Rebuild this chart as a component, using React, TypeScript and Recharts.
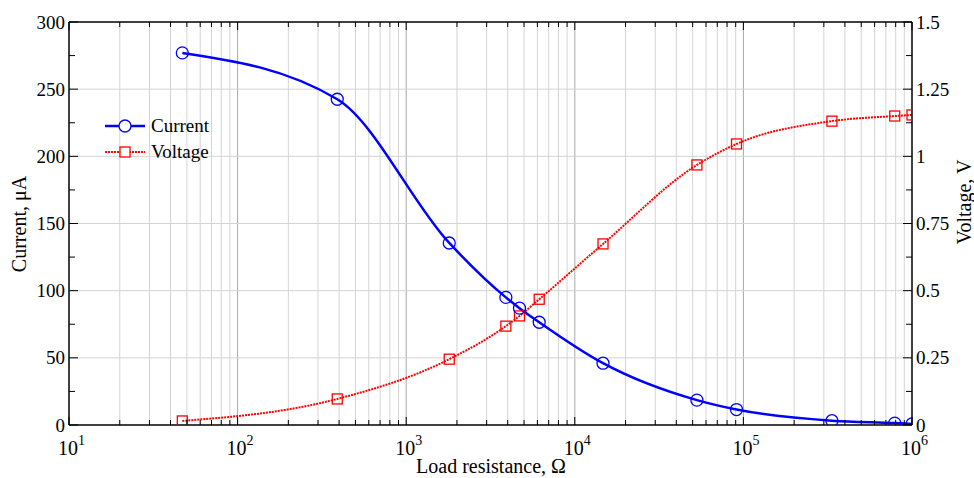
import { ComposedChart, Line, XAxis, YAxis, ReferenceLine } from 'recharts';

// Load resistance (ohm) at each measured point
const resistance = [47, 390, 1800, 3900, 4700, 6150, 14700, 53000, 91000, 335000, 790000, 1000000];
// Current, uA
const current = [277, 242.5, 135.5, 95, 87, 76.5, 46, 18.5, 11.5, 3.2, 1.4, 0.8];
// Voltage, V
const voltage = [0.015, 0.097, 0.245, 0.368, 0.406, 0.468, 0.674, 0.968, 1.046, 1.131, 1.15, 1.154];

const decadeTicks = [10, 100, 1000, 10000, 100000, 1000000];
const decadeExponents = ['1', '2', '3', '4', '5', '6'];
const minorTicks = [
  20, 30, 40, 50, 60, 70, 80, 90,
  200, 300, 400, 500, 600, 700, 800, 900,
  2000, 3000, 4000, 5000, 6000, 7000, 8000, 9000,
  20000, 30000, 40000, 50000, 60000, 70000, 80000, 90000,
  200000, 300000, 400000, 500000, 600000, 700000, 800000, 900000,
];
const allXTicks = [...decadeTicks, ...minorTicks].sort((a, b) => a - b);
const currentTicks = [0, 25, 50, 75, 100, 125, 150, 175, 200, 225, 250, 275, 300];
const currentLabels = ['0', '50', '100', '150', '200', '250', '300'];
const voltageTicks = [0, 0.125, 0.25, 0.375, 0.5, 0.625, 0.75, 0.875, 1, 1.125, 1.25, 1.375, 1.5];
const voltageLabels = ['0', '0.25', '0.5', '0.75', '1', '1.25', '1.5'];
const gridCurrent = [50, 100, 150, 200, 250];

const FONT = '"Liberation Serif", "Times New Roman", serif';
const BLUE = '#0000ff';
const RED = '#ff0000';

const data = resistance.map((r, i) => ({ r, current: current[i], voltage: voltage[i] }));

const BottomTick = (props: any) => {
  const { x, y, payload } = props;
  const idx = decadeTicks.indexOf(payload.value);
  const major = idx >= 0;
  return (
    <g>
      <line x1={x} x2={x} y1={y} y2={y - (major ? 8 : 5)} stroke="#000" strokeWidth={1} />
      {major && (
        <text x={x - 11} y={y + 30} fontFamily={FONT} fontSize={20} fill="#000">
          10
          <tspan dy={-10} fontSize={14}>{decadeExponents[idx]}</tspan>
        </text>
      )}
    </g>
  );
};

const TopTick = (props: any) => {
  const { x, y, payload } = props;
  const major = decadeTicks.includes(payload.value);
  return <line x1={x} x2={x} y1={y} y2={y + (major ? 8 : 5)} stroke="#000" strokeWidth={1} />;
};

const LeftTick = (props: any) => {
  const { x, y, payload } = props;
  const label = currentLabels.find((l) => Number(l) === payload.value);
  return (
    <g>
      <line x1={x} x2={x + (label ? 9 : 6)} y1={y} y2={y} stroke="#000" strokeWidth={1} />
      {label && (
        <text x={x - 4} y={y} dy="0.35em" textAnchor="end" fontFamily={FONT} fontSize={19} fill="#000">
          {label}
        </text>
      )}
    </g>
  );
};

const RightTick = (props: any) => {
  const { x, y, payload } = props;
  const label = voltageLabels.find((l) => Number(l) === payload.value);
  return (
    <g>
      <line x1={x} x2={x - (label ? 9 : 6)} y1={y} y2={y} stroke="#000" strokeWidth={1} />
      {label && (
        <text x={x + 4} y={y} dy="0.35em" textAnchor="start" fontFamily={FONT} fontSize={19} fill="#000">
          {label}
        </text>
      )}
    </g>
  );
};

const SquareDot = (props: any) => {
  const { cx, cy, index } = props;
  return (
    <rect key={`sq-${index}`} x={cx - 5} y={cy - 5} width={10} height={10} fill="none" stroke={RED} strokeWidth={1.3} />
  );
};

const LegendBox = () => (
  <div style={{ position: 'absolute', top: 113, left: 103, fontFamily: FONT, fontSize: 19, lineHeight: '26px' }}>
    <div style={{ display: 'flex', alignItems: 'center' }}>
      <svg width={44} height={26}>
        <line x1={2} x2={42} y1={13} y2={13} stroke={BLUE} strokeWidth={2.5} />
        <circle cx={22} cy={13} r={6} fill="#fff" stroke={BLUE} strokeWidth={1.3} />
      </svg>
      <span style={{ marginLeft: 4 }}>Current</span>
    </div>
    <div style={{ display: 'flex', alignItems: 'center' }}>
      <svg width={44} height={26}>
        <line x1={2} x2={42} y1={13} y2={13} stroke={RED} strokeWidth={2} strokeDasharray="2 1" />
        <rect x={17} y={8} width={10} height={10} fill="#fff" stroke={RED} strokeWidth={1.3} />
      </svg>
      <span style={{ marginLeft: 4 }}>Voltage</span>
    </div>
  </div>
);

export default function App() {
  return (
    <div style={{ position: 'fixed', top: 0, left: 0, width: 974, height: 478, background: '#fff', overflow: 'hidden' }}>
      <ComposedChart width={974} height={478} data={data} margin={{ top: 21, right: 0, bottom: 0, left: 0 }}>
        {minorTicks.map((v) => (
          <ReferenceLine key={`vx-${v}`} x={v} xAxisId="bottom" yAxisId="left" stroke="#d4d4d4" strokeWidth={1} />
        ))}
        {decadeTicks.slice(1, -1).map((v) => (
          <ReferenceLine key={`dx-${v}`} x={v} xAxisId="bottom" yAxisId="left" stroke="#a8a8a8" strokeWidth={1} />
        ))}
        {gridCurrent.map((v) => (
          <ReferenceLine key={`hy-${v}`} y={v} xAxisId="bottom" yAxisId="left" stroke="#d4d4d4" strokeWidth={1} />
        ))}
        <XAxis
          xAxisId="bottom"
          dataKey="r"
          type="number"
          scale="log"
          domain={[10, 1000000]}
          allowDataOverflow
          ticks={allXTicks}
          interval={0}
          tick={<BottomTick />}
          tickLine={false}
          tickSize={0}
          tickMargin={0}
          axisLine={{ stroke: '#000', strokeWidth: 1.5 }}
          height={53}
        />
        <XAxis
          xAxisId="top"
          orientation="top"
          dataKey="r"
          type="number"
          scale="log"
          domain={[10, 1000000]}
          allowDataOverflow
          ticks={allXTicks}
          interval={0}
          tick={<TopTick />}
          tickLine={false}
          tickSize={0}
          tickMargin={0}
          axisLine={{ stroke: '#000', strokeWidth: 1.5 }}
          height={1}
        />
        <YAxis
          yAxisId="left"
          type="number"
          domain={[0, 300]}
          allowDataOverflow
          ticks={currentTicks}
          interval={0}
          tick={<LeftTick />}
          tickLine={false}
          tickSize={0}
          tickMargin={0}
          axisLine={{ stroke: '#000', strokeWidth: 1.5 }}
          width={69}
        />
        <YAxis
          yAxisId="right"
          orientation="right"
          type="number"
          domain={[0, 1.5]}
          allowDataOverflow
          ticks={voltageTicks}
          interval={0}
          tick={<RightTick />}
          tickLine={false}
          tickSize={0}
          tickMargin={0}
          axisLine={{ stroke: '#000', strokeWidth: 1.5 }}
          width={62}
        />
        <Line
          xAxisId="top"
          yAxisId="right"
          type="monotone"
          dataKey="voltage"
          stroke={RED}
          strokeWidth={2}
          strokeDasharray="2 1"
          dot={<SquareDot />}
          activeDot={false}
          isAnimationActive={false}
        />
        <Line
          xAxisId="bottom"
          yAxisId="left"
          type="monotone"
          dataKey="current"
          stroke={BLUE}
          strokeWidth={2.5}
          dot={{ r: 6, fill: 'none', stroke: BLUE, strokeWidth: 1.3 }}
          activeDot={false}
          isAnimationActive={false}
        />
      </ComposedChart>
      <LegendBox />
      <div
        style={{
          position: 'absolute', left: 491, top: 466, transform: 'translate(-50%, -50%)',
          fontFamily: FONT, fontSize: 20, lineHeight: '22px', whiteSpace: 'nowrap',
        }}
      >
        Load resistance, Ω
      </div>
      <div
        style={{
          position: 'absolute', left: 19, top: 224, transform: 'translate(-50%, -50%) rotate(-90deg)',
          fontFamily: FONT, fontSize: 20, lineHeight: '22px', whiteSpace: 'nowrap',
        }}
      >
        Current, μA
      </div>
      <div
        style={{
          position: 'absolute', left: 964, top: 202, transform: 'translate(-50%, -50%) rotate(-90deg)',
          fontFamily: FONT, fontSize: 20, lineHeight: '22px', whiteSpace: 'nowrap',
        }}
      >
        Voltage, V
      </div>
    </div>
  );
}
